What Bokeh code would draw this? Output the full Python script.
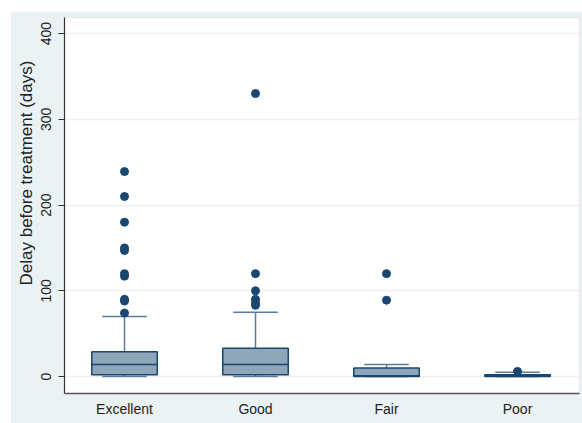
import math
from bokeh.plotting import figure
from bokeh.models import Range1d, FixedTicker, ColumnDataSource, Title
from bokeh.embed import file_html
from bokeh.resources import INLINE

categories = ["Excellent", "Good", "Fair", "Poor"]
q1 = [2, 2, 0, 0]
median = [14, 14, 1, 1]
q3 = [29, 33, 10, 2]
whisker_low = [0, 0, 0, 0]
whisker_high = [70, 75, 14, 5]
outlier_cat = ["Excellent"] * 10 + ["Good"] * 6 + ["Fair"] * 2 + ["Poor"]
outlier_val = [239, 210, 180, 150, 147, 120, 117, 90, 88, 74,
               330, 120, 100, 90, 86, 83,
               120, 89,
               6]
y_ticks = [0, 100, 200, 300, 400]
y_title = "Delay before treatment (days)"

xpos = [i + 1 for i in range(len(categories))]
box_w = 0.5
cap_w = 0.34

box_src = ColumnDataSource(dict(
    x=xpos, q1=q1, med=median, q3=q3, lo=whisker_low, hi=whisker_high,
    bx0=[x - box_w / 2 for x in xpos], bx1=[x + box_w / 2 for x in xpos],
    cx0=[x - cap_w / 2 for x in xpos], cx1=[x + cap_w / 2 for x in xpos],
))
out_src = ColumnDataSource(dict(
    x=[categories.index(c) + 1 for c in outlier_cat], y=outlier_val))

NAVY = "#1a476f"
WHISK = "#5a7b9c"
FILL = "#8ea5ba"
BG = "#eaf2f3"

p = figure(width=572, height=412, output_backend="svg", toolbar_location=None,
           x_range=Range1d(0.542, 4.473), y_range=Range1d(-19.8, 418.7),
           min_border_left=54, min_border_right=3, min_border_top=6, min_border_bottom=30,
           border_fill_color=BG, background_fill_color="white",
           outline_line_color="#dfe7e9", margin=(11, 0, 0, 10))

# whiskers
p.segment(x0="x", y0="q3", x1="x", y1="hi", source=box_src, line_color=WHISK, line_width=1.5)
p.segment(x0="x", y0="lo", x1="x", y1="q1", source=box_src, line_color=WHISK, line_width=1.5)
p.segment(x0="cx0", y0="hi", x1="cx1", y1="hi", source=box_src, line_color=WHISK, line_width=1.5)
p.segment(x0="cx0", y0="lo", x1="cx1", y1="lo", source=box_src, line_color=WHISK, line_width=1.5)
# boxes
p.quad(left="bx0", right="bx1", bottom="q1", top="q3", source=box_src,
       fill_color=FILL, line_color=NAVY, line_width=1.5)
p.segment(x0="bx0", y0="med", x1="bx1", y1="med", source=box_src, line_color=NAVY, line_width=1.5)
# outliers
p.scatter(x="x", y="y", source=out_src, size=8, fill_color=NAVY, line_color=NAVY)

p.xgrid.visible = False
p.ygrid.ticker = FixedTicker(ticks=y_ticks)
p.ygrid.grid_line_color = BG
p.ygrid.grid_line_width = 1.5

FONT = "Liberation Sans"
p.xaxis.ticker = FixedTicker(ticks=xpos)
p.xaxis.major_label_overrides = {x: c for x, c in zip(xpos, categories)}
p.xaxis.major_tick_out = 0
p.xaxis.major_tick_in = 0
p.xaxis.minor_tick_line_color = None
p.xaxis.major_label_standoff = 7
p.xaxis.major_label_text_font = FONT
p.xaxis.major_label_text_font_size = "14px"
p.xaxis.major_label_text_color = "#222222"
p.xaxis.axis_line_color = "#555555"
p.xaxis.axis_line_width = 1.5

p.yaxis.ticker = FixedTicker(ticks=y_ticks)
p.yaxis.major_label_orientation = "vertical"
p.yaxis.major_tick_out = 6
p.yaxis.major_tick_in = 0
p.yaxis.minor_tick_line_color = None
p.yaxis.major_label_standoff = 7
p.yaxis.major_label_text_font = FONT
p.yaxis.major_label_text_font_size = "14px"
p.yaxis.major_label_text_color = "#222222"
p.yaxis.axis_line_color = "#333333"
p.yaxis.axis_line_width = 1.2
p.yaxis.major_tick_line_color = "#333333"

title = Title(text=y_title, align="left", offset=108, standoff=6,
              text_font=FONT, text_font_size="17px", text_font_style="normal",
              text_color="#222222")
p.add_layout(title, "left")

open("out.html", "w").write(file_html(p, INLINE))
